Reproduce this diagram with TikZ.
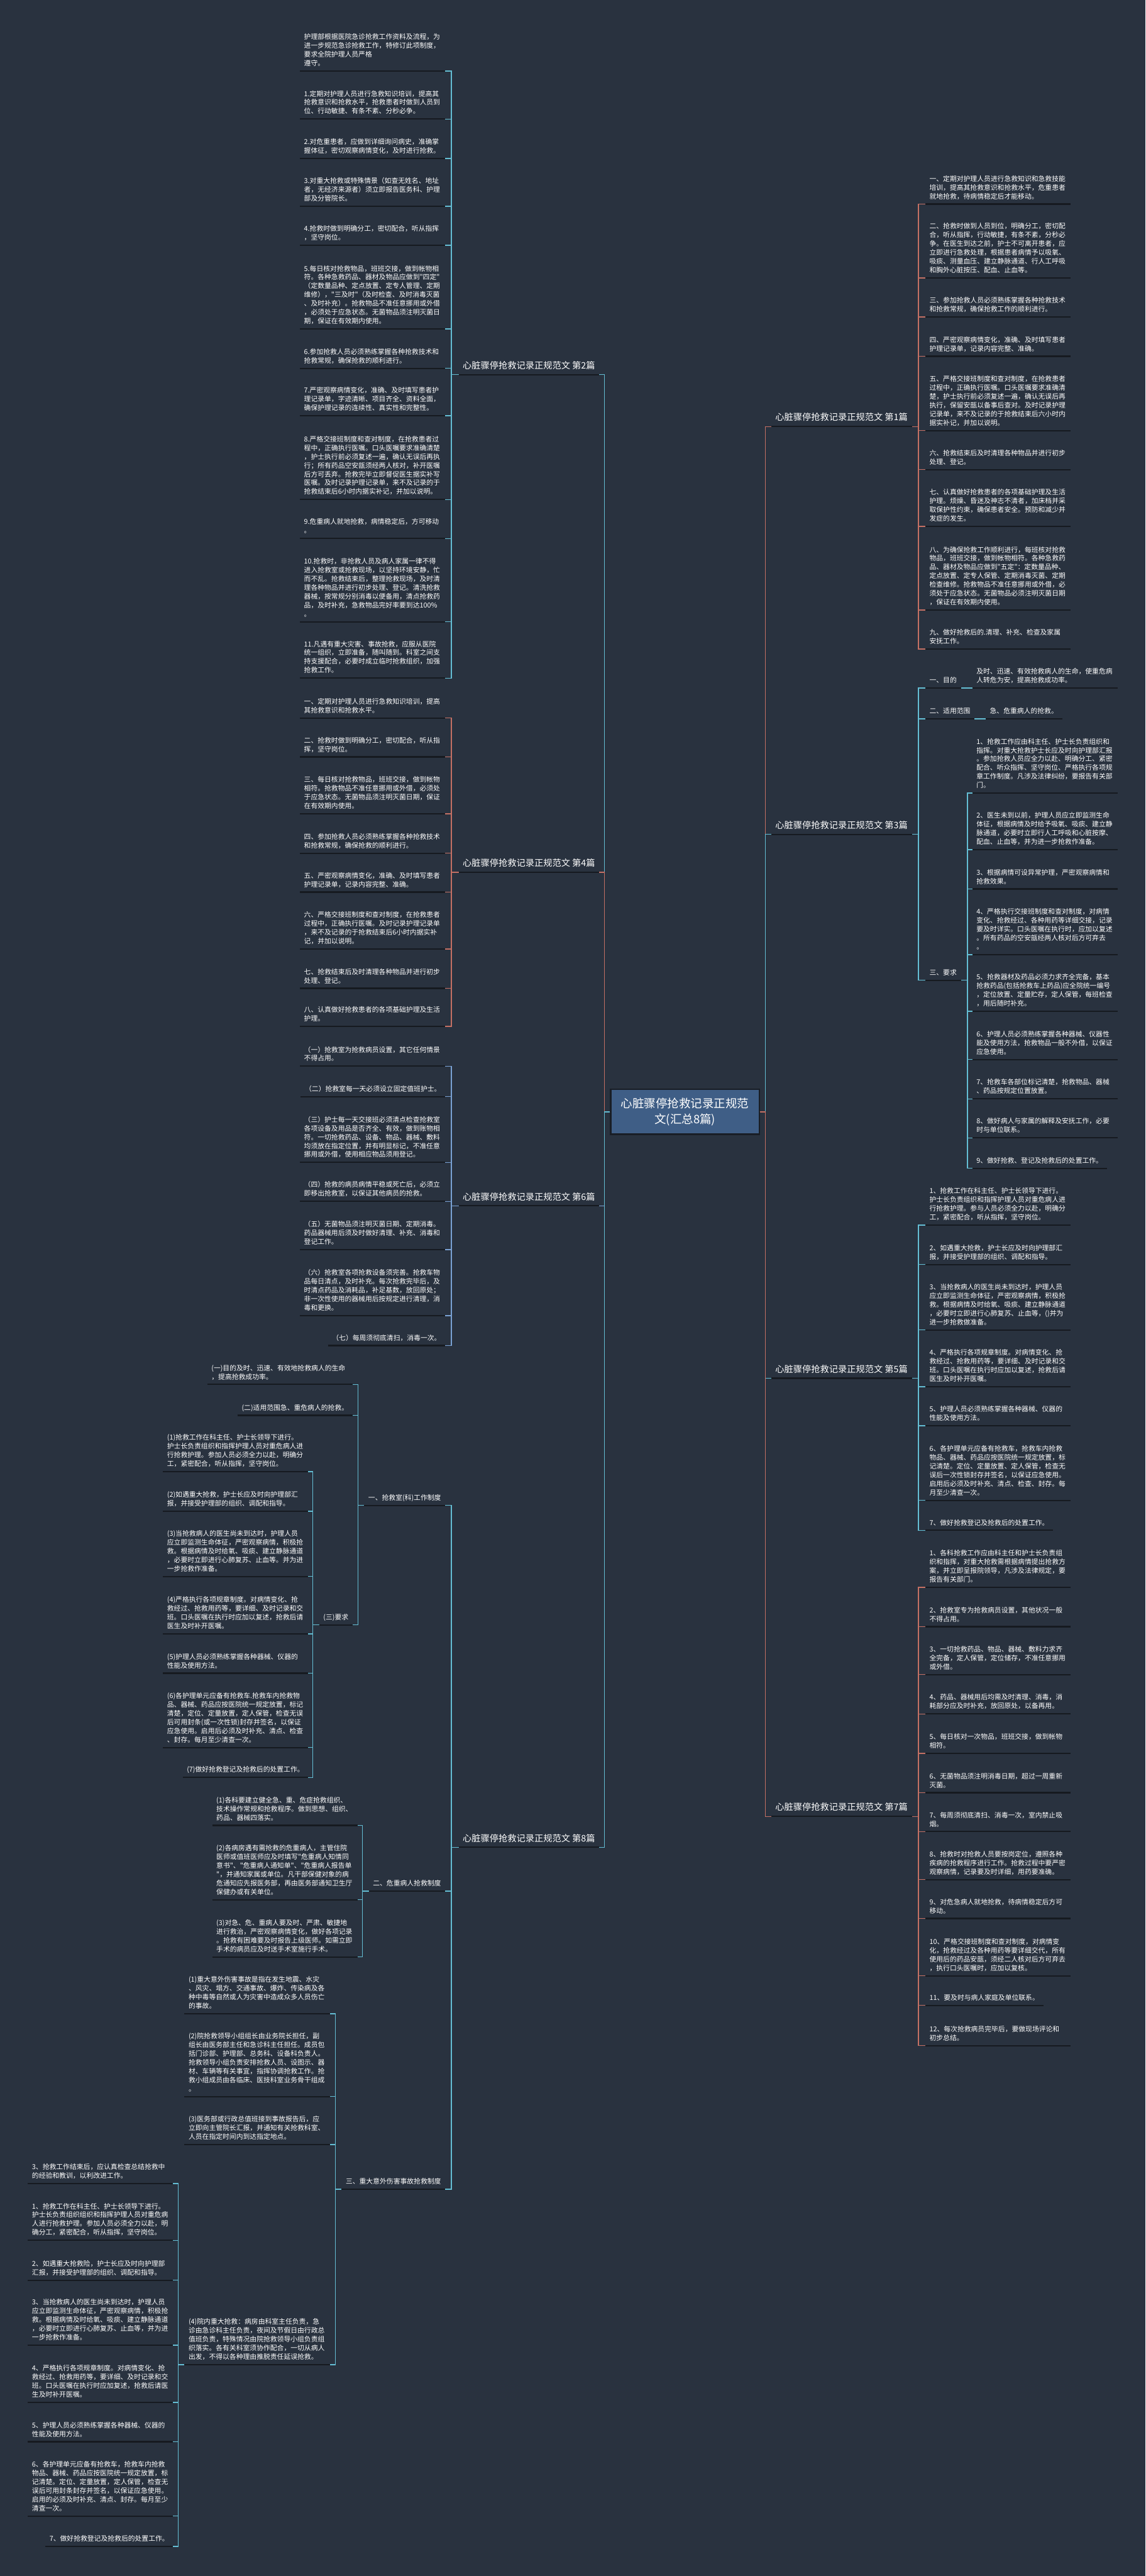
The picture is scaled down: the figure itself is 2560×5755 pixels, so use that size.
\documentclass[tikz,border=0pt]{standalone}
\usepackage{fontspec}
\newfontfamily\cjk{Noto Sans CJK SC}
\newcommand\lf{\cjk\fontsize{7.6pt}{9.8pt}\selectfont}
\newcommand\brf{\cjk\fontsize{10pt}{12pt}\selectfont}
\newcommand\rootf{\cjk\fontsize{13pt}{17pt}\selectfont}
\definecolor{bg}{RGB}{41,50,63}
\definecolor{ulc}{RGB}{22,26,32}
\definecolor{cyanc}{RGB}{100,190,212}
\definecolor{salc}{RGB}{196,112,100}
\definecolor{bluc}{RGB}{122,162,212}
\definecolor{rootfill}{RGB}{63,94,134}
\definecolor{rootdraw}{RGB}{25,30,38}
\begin{document}
\begin{tikzpicture}[x=0.5pt,y=-0.5pt,
 lf/.style={font=\lf, text=white, inner xsep=4.5pt, inner ysep=2.75pt, align=left, execute at end node=\strut},
 wd/.style={text width=153pt},
 lft/.style={anchor=south east},
 rgt/.style={anchor=south west},
 brn/.style={font=\brf, text=white, inner xsep=4.5pt, inner ysep=2.75pt, execute at end node=\strut},
 ul/.style={draw=ulc, line width=1.5pt},
 cy/.style={draw=cyanc, line width=1pt},
 sa/.style={draw=salc, line width=1pt},
 bl/.style={draw=bluc, line width=1pt},
 rootn/.style={font=\rootf, text=white, fill=rootfill, draw=rootdraw, line width=1.5pt, align=center, minimum width=166pt, minimum height=50pt}]
\fill[bg] (0,0) rectangle (2560,5755);
\useasboundingbox (0,0) rectangle (2560,5755);

% root
\node[rootn] (root) at (1531,2484) {心脏骤停抢救记录正规范\\文(汇总8篇)};
\coordinate (lj) at (1351,2484);
\coordinate (rj) at (1711,2484);

% branch labels
\node[brn,rgt] (b2) at (1025,837) {心脏骤停抢救记录正规范文 第2篇};
\node[brn,rgt] (b4) at (1025,1949) {心脏骤停抢救记录正规范文 第4篇};
\node[brn,rgt] (b6) at (1025,2694) {心脏骤停抢救记录正规范文 第6篇};
\node[brn,rgt] (b8) at (1025,4127) {心脏骤停抢救记录正规范文 第8篇};
\node[brn,lft] (b1) at (2038,953) {心脏骤停抢救记录正规范文 第1篇};
\node[brn,lft] (b3) at (2038,1864) {心脏骤停抢救记录正规范文 第3篇};
\node[brn,lft] (b5) at (2038,3079) {心脏骤停抢救记录正规范文 第5篇};
\node[brn,lft] (b7) at (2038,4058) {心脏骤停抢救记录正规范文 第7篇};

% ---------- 第2篇 ----------
\node[lf,wd,lft] (p2a) at (995,159) {护理部根据医院急诊抢救工作资料及流程，为\\进一步规范急诊抢救工作，特修订此项制度，\\要求全院护理人员严格\\遵守。};
\node[lf,wd,lft] (p2b) at (995,266) {1.定期对护理人员进行急救知识培训，提高其\\抢救意识和抢救水平，抢救患者时做到人员到\\位、行动敏捷、有条不紊、分秒必争。};
\node[lf,wd,lft] (p2c) at (995,354) {2.对危重患者，应做到详细询问病史，准确掌\\握体征，密切观察病情变化，及时进行抢救。};
\node[lf,wd,lft] (p2d) at (995,461) {3.对重大抢救或特殊情景（如查无姓名、地址\\者，无经济来源者）须立即报告医务科、护理\\部及分管院长。};
\node[lf,wd,lft] (p2e) at (995,548) {4.抢救时做到明确分工，密切配合，听从指挥\\，坚守岗位。};
\node[lf,wd,lft] (p2f) at (995,735) {5.每日核对抢救物品，班班交接，做到帐物相\\符。各种急救药品、器材及物品应做到"四定"\\（定数量品种、定点放置、定专人管理、定期\\维修），"三及时"（及时检查、及时消毒灭菌\\、及时补充）。抢救物品不准任意挪用或外借\\，必须处于应急状态。无菌物品须注明灭菌日\\期，保证在有效期内使用。};
\node[lf,wd,lft] (p2g) at (995,823) {6.参加抢救人员必须熟练掌握各种抢救技术和\\抢救常规，确保抢救的顺利进行。};
\node[lf,wd,lft] (p2h) at (995,929) {7.严密观察病情变化，准确、及时填写患者护\\理记录单，字迹清晰、项目齐全、资料全面，\\确保护理记录的连续性、真实性和完整性。};
\node[lf,wd,lft] (p2i) at (995,1116) {8.严格交接班制度和查对制度，在抢救患者过\\程中，正确执行医嘱。口头医嘱要求准确清楚\\，护士执行前必须复述一遍，确认无误后再执\\行；所有药品空安瓿须经两人核对，补开医嘱\\后方可丢弃。抢救完毕立即督促医生据实补写\\医嘱。及时记录护理记录单，来不及记录的于\\抢救结束后6小时内据实补记，并加以说明。};
\node[lf,wd,lft] (p2j) at (995,1203) {9.危重病人就地抢救，病情稳定后，方可移动\\。};
\node[lf,wd,lft] (p2k) at (995,1389) {10.抢救时，非抢救人员及病人家属一律不得\\进入抢救室或抢救现场，以坚持环境安静，忙\\而不乱。抢救结束后，整理抢救现场，及时清\\理各种物品并进行初步处理、登记。清洗抢救\\器械，按常规分别消毒以便备用，清点抢救药\\品，及时补充，急救物品完好率要到达100\%\\。};
\node[lf,wd,lft] (p2l) at (995,1515) {11.凡遇有重大灾害、事故抢救，应服从医院\\统一组织，立即准备，随叫随到。科室之间支\\持支援配合，必要时成立临时抢救组织，加强\\抢救工作。};

% ---------- 第4篇 ----------
\node[lf,wd,lft] (p4a) at (995,1604) {一、定期对护理人员进行急救知识培训，提高\\其抢救意识和抢救水平。};
\node[lf,wd,lft] (p4b) at (995,1691) {二、抢救时做到明确分工，密切配合，听从指\\挥，坚守岗位。};
\node[lf,wd,lft] (p4c) at (995,1818) {三、每日核对抢救物品，班班交接，做到帐物\\相符。抢救物品不准任意挪用或外借，必须处\\于应急状态。无菌物品须注明灭菌日期，保证\\在有效期内使用。};
\node[lf,wd,lft] (p4d) at (995,1906) {四、参加抢救人员必须熟练掌握各种抢救技术\\和抢救常规，确保抢救的顺利进行。};
\node[lf,wd,lft] (p4e) at (995,1993) {五、严密观察病情变化，准确、及时填写患者\\护理记录单，记录内容完整、准确。};
\node[lf,wd,lft] (p4f) at (995,2120) {六、严格交接班制度和查对制度，在抢救患者\\过程中，正确执行医嘱。及时记录护理记录单\\，来不及记录的于抢救结束后6小时内据实补\\记，并加以说明。};
\node[lf,wd,lft] (p4g) at (995,2208) {七、抢救结束后及时清理各种物品并进行初步\\处理、登记。};
\node[lf,wd,lft] (p4h) at (995,2293) {八、认真做好抢救患者的各项基础护理及生活\\护理。};

% ---------- 第6篇 ----------
\node[lf,wd,lft] (p6a) at (995,2382) {（一）抢救室为抢救病员设置，其它任何情景\\不得占用。};
\node[lf,lft] (p6b) at (995,2450) {（二）抢救室每一天必须设立固定值班护士。};
\node[lf,wd,lft] (p6c) at (995,2597) {（三）护士每一天交接班必须清点检查抢救室\\各项设备及用品是否齐全、有效，做到账物相\\符。一切抢救药品、设备、物品、器械、敷料\\均须放在指定位置，并有明显标记，不准任意\\挪用或外借，使用相应物品须用登记。};
\node[lf,wd,lft] (p6d) at (995,2684) {（四）抢救的病员病情平稳或死亡后，必须立\\即移出抢救室，以保证其他病员的抢救。};
\node[lf,wd,lft] (p6e) at (995,2792) {（五）无菌物品须注明灭菌日期、定期消毒。\\药品器械用后须及时做好清理、补充、消毒和\\登记工作。};
\node[lf,wd,lft] (p6f) at (995,2939) {（六）抢救室各项抢救设备须完善。抢救车物\\品每日清点，及时补充。每次抢救完毕后，及\\时清点药品及消耗品，补足基数，放回原处；\\非一次性使用的器械用后按规定进行清理，消\\毒和更换。};
\node[lf,lft] (p6g) at (995,3006) {（七）每周须彻底清扫，消毒一次。};

% ---------- 第8篇 ----------
\node[lf,lft] (s1) at (995,3363) {一、抢救室(科)工作制度};
\node[lf,lft] (s2) at (995,4225) {二、危重病人抢救制度};
\node[lf,lft] (s3) at (995,4891) {三、重大意外伤害事故抢救制度};

\node[lf,wd,lft] (s1a) at (788,3093) {(一)目的及时、迅速、有效地抢救病人的生命\\，提高抢救成功率。};
\node[lf,lft] (s1b) at (788,3162) {(二)适用范围急、重危病人的抢救。};
\node[lf,lft] (s1c) at (788,3630) {(三)要求};

\node[lf,wd,lft] (q1) at (689,3288) {(1)抢救工作在科主任、护士长领导下进行。\\护士长负责组织和指挥护理人员对重危病人进\\行抢救护理。参加人员必须全力以赴，明确分\\工，紧密配合，听从指挥，坚守岗位。};
\node[lf,wd,lft] (q2) at (689,3376) {(2)如遇重大抢救，护士长应及时向护理部汇\\报，并接受护理部的组织、调配和指导。};
\node[lf,wd,lft] (q3) at (689,3522) {(3)当抢救病人的医生尚未到达时，护理人员\\应立即监测生命体征，严密观察病情，积极抢\\救。根据病情及时给氧、吸痰、建立静脉通道\\，必要时立即进行心肺复苏、止血等。并为进\\一步抢救作准备。};
\node[lf,wd,lft] (q4) at (689,3650) {(4)严格执行各项规章制度。对病情变化、抢\\救经过、抢救用药等，要详细、及时记录和交\\班。口头医嘱在执行时应加以复述，抢救后请\\医生及时补开医嘱。};
\node[lf,wd,lft] (q5) at (689,3738) {(5)护理人员必须熟练掌握各种器械、仪器的\\性能及使用方法。};
\node[lf,wd,lft] (q6) at (689,3904) {(6)各护理单元应备有抢救车.抢救车内抢救物\\品、器械、药品应按医院统一规定放置，标记\\清楚，定位、定量放置，定人保管，检查无误\\后可用封条(或一次性锁)封存并签名，以保证\\应急使用。启用后必须及时补充、清点、检查\\、封存。每月至少清查一次。};
\node[lf,lft] (q7) at (689,3971) {(7)做好抢救登记及抢救后的处置工作。};

\node[lf,wd,lft] (u1) at (799,4078) {(1)各科要建立健全急、重、危症抢救组织、\\技术操作常规和抢救程序。做到思想、组织、\\药品、器械四落实。};
\node[lf,wd,lft] (u2) at (799,4244) {(2)各病房遇有需抢救的危重病人，主管住院\\医师或值班医师应及时填写"危重病人知情同\\意书"、"危重病人通知单"、"危重病人报告单\\"，并通知家属或单位。凡干部保健对象的病\\危通知应先报医务部，再由医务部通知卫生厅\\保健办或有关单位。};
\node[lf,wd,lft] (u3) at (799,4372) {(3)对急、危、重病人要及时、严肃、敏捷地\\进行救治，严密观察病情变化，做好各项记录\\。抢救有困难要及时报告上级医师。如需立即\\手术的病员应及时送手术室施行手术。};

\node[lf,wd,lft] (v1) at (737,4499) {(1)重大意外伤害事故是指在发生地震、水灾\\、风灾、塌方、交通事故、爆炸、传染病及各\\种中毒等自然或人为灾害中造成众多人员伤亡\\的事故。};
\node[lf,wd,lft] (v2) at (737,4684) {(2)院抢救领导小组组长由业务院长担任，副\\组长由医务部主任和急诊科主任担任。成员包\\括门诊部、护理部、总务科、设备科负责人。\\抢救领导小组负责安排抢救人员、设图示、器\\材、车辆等有关事宜，指挥协调抢救工作。抢\\救小组成员由各临床、医技科室业务骨干组成\\。};
\node[lf,wd,lft] (v3) at (737,4791) {(3)医务部或行政总值班接到事故报告后，应\\立即向主管院长汇报，并通知有关抢救科室、\\人员在指定时间内到达指定地点。};
\node[lf,wd,lft] (v4) at (737,5283) {(4)院内重大抢救：病房由科室主任负责，急\\诊由急诊科主任负责，夜间及节假日由行政总\\值班负责，特殊情况由院抢救领导小组负责组\\织落实。各有关科室须协作配合，一切从病人\\出发，不得以各种理由推脱责任延误抢救。};

\node[lf,wd,lft] (w0) at (387,4878) {3、抢救工作结束后，应认真检查总结抢救中\\的经验和教训，以利改进工作。};
\node[lf,wd,lft] (w1) at (387,5005) {1、抢救工作在科主任、护士长领导下进行。\\护士长负责组织组织和指挥护理人员对重危病\\人进行抢救护理。参加人员必须全力以赴，明\\确分工，紧密配合，听从指挥，坚守岗位。};
\node[lf,wd,lft] (w2) at (387,5094) {2、如遇重大抢救险，护士长应及时向护理部\\汇报，并接受护理部的组织、调配和指导。};
\node[lf,wd,lft] (w3) at (387,5239) {3、当抢救病人的医生尚未到达时，护理人员\\应立即监测生命体征，严密观察病情，积极抢\\救。根据病情及时给氧、吸痰、建立静脉通道\\，必要时立即进行心肺复苏、止血等，并为进\\一步抢救作准备。};
\node[lf,wd,lft] (w4) at (387,5367) {4、严格执行各项规章制度。对病情变化、抢\\救经过、抢救用药等，要详细、及时记录和交\\班。口头医嘱在执行时应加复述，抢救后请医\\生及时补开医嘱。};
\node[lf,wd,lft] (w5) at (387,5455) {5、护理人员必须熟练掌握各种器械、仪器的\\性能及使用方法。};
\node[lf,wd,lft] (w6) at (387,5621) {6、各护理单元应备有抢救车，抢救车内抢救\\物品、器械、药品应按医院统一规定放置，标\\记清楚。定位、定量放置，定人保管，检查无\\误后可用封条封存并签名，以保证应急使用。\\启用的必须及时补充、清点、封存。每月至少\\清查一次。};
\node[lf,lft] (w7) at (387,5689) {7、做好抢救登记及抢救后的处置工作。};

% ---------- 第1篇 ----------
\node[lf,wd,rgt] (r1a) at (2068,456) {一、定期对护理人员进行急救知识和急救技能\\培训，提高其抢救意识和抢救水平，危重患者\\就地抢救，待病情稳定后才能移动。};
\node[lf,wd,rgt] (r1b) at (2068,621) {二、抢救时做到人员到位，明确分工，密切配\\合，听从指挥，行动敏捷，有条不紊，分秒必\\争。在医生到达之前，护士不可离开患者，应\\立即进行急救处理，根据患者病情予以吸氧、\\吸痰、测量血压、建立静脉通道、行人工呼吸\\和胸外心脏按压、配血、止血等。};
\node[lf,wd,rgt] (r1c) at (2068,708) {三、参加抢救人员必须熟练掌握各种抢救技术\\和抢救常规，确保抢救工作的顺利进行。};
\node[lf,wd,rgt] (r1d) at (2068,796) {四、严密观察病情变化，准确、及时填写患者\\护理记录单，记录内容完整、准确。};
\node[lf,wd,rgt] (r1e) at (2068,962) {五、严格交接班制度和查对制度，在抢救患者\\过程中，正确执行医嘱。口头医嘱要求准确清\\楚，护士执行前必须复述一遍，确认无误后再\\执行，保留安瓿以备事后查对。及时记录护理\\记录单，来不及记录的于抢救结束后六小时内\\据实补记，并加以说明。};
\node[lf,wd,rgt] (r1f) at (2068,1049) {六、抢救结束后及时清理各种物品并进行初步\\处理、登记。};
\node[lf,wd,rgt] (r1g) at (2068,1176) {七、认真做好抢救患者的各项基础护理及生活\\护理。烦燥、昏迷及神志不清者，加床档并采\\取保护性约束，确保患者安全。预防和减少并\\发症的发生。};
\node[lf,wd,rgt] (r1h) at (2068,1363) {八、为确保抢救工作顺利进行，每班核对抢救\\物品，班班交接，做到帐物相符。各种急救药\\品、器材及物品应做到"五定"：定数量品种、\\定点放置、定专人保管、定期消毒灭菌、定期\\检查维修。抢救物品不准任意挪用或外借，必\\须处于应急状态。无菌物品必须注明灭菌日期\\，保证在有效期内使用。};
\node[lf,wd,rgt] (r1i) at (2068,1450) {九、做好抢救后的.清理、补充、检查及家属\\安抚工作。};

% ---------- 第3篇 ----------
\node[lf,rgt] (g1) at (2068,1537) {一、目的};
\node[lf,rgt] (g2) at (2068,1606) {二、适用范围};
\node[lf,rgt] (g3) at (2068,2190) {三、要求};
\node[lf,wd,rgt] (g1c) at (2173,1537) {及时、迅速、有效抢救病人的生命，使重危病\\人转危为安，提高抢救成功率。};
\node[lf,rgt] (g2c) at (2203,1606) {急、危重病人的抢救。};
\node[lf,wd,rgt] (h1) at (2173,1772) {1、抢救工作应由科主任、护士长负责组织和\\指挥。对重大抢救护士长应及时向护理部汇报\\。参加抢救人员应全力以赴、明确分工、紧密\\配合、听众指挥、坚守岗位、严格执行各项规\\章工作制度。凡涉及法律纠纷，要报告有关部\\门。};
\node[lf,wd,rgt] (h2) at (2173,1898) {2、医生未到以前，护理人员应立即监测生命\\体征，根据病情及时给予吸氧、吸痰、建立静\\脉通道，必要时立即行人工呼吸和心脏按摩、\\配血、止血等，并为进一步抢救作准备。};
\node[lf,wd,rgt] (h3) at (2173,1986) {3、根据病情可设异常护理，严密观察病情和\\抢救效果。};
\node[lf,wd,rgt] (h4) at (2173,2133) {4、严格执行交接班制度和查对制度，对病情\\变化、抢救经过、各种用药等详细交接，记录\\要及时详实。口头医嘱在执行时，应加以复述\\。所有药品的空安瓿经两人核对后方可弃去\\。};
\node[lf,wd,rgt] (h5) at (2173,2259) {5、抢救器材及药品必须力求齐全完备，基本\\抢救药品(包括抢救车上药品)应全院统一编号\\，定位放置、定量贮存，定人保管，每班检查\\，用后随时补充。};
\node[lf,wd,rgt] (h6) at (2173,2367) {6、护理人员必须熟练掌握各种器械、仪器性\\能及使用方法，抢救物品一般不外借，以保证\\应急使用。};
\node[lf,wd,rgt] (h7) at (2173,2455) {7、抢救车各部位标记清楚，抢救物品、器械\\、药品按规定位置放置。};
\node[lf,wd,rgt] (h8) at (2173,2542) {8、做好病人与家属的解释及安抚工作，必要\\时与单位联系。};
\node[lf,rgt] (h9) at (2173,2610) {9、做好抢救、登记及抢救后的处置工作。};

% ---------- 第5篇 ----------
\node[lf,wd,rgt] (k1) at (2068,2737) {1、抢救工作在科主任、护士长领导下进行。\\护士长负责组织和指挥护理人员对重危病人进\\行抢救护理。参与人员必须全力以赴，明确分\\工，紧密配合，听从指挥，坚守岗位。};
\node[lf,wd,rgt] (k2) at (2068,2825) {2、如遇重大抢救，护士长应及时向护理部汇\\报，并接受护理部的组织、调配和指导。};
\node[lf,wd,rgt] (k3) at (2068,2971) {3、当抢救病人的医生尚未到达时，护理人员\\应立即监测生命体征，严密观察病情，积极抢\\救。根据病情及时给氧、吸痰、建立静脉通道\\，必要时立即进行心肺复苏、止血等，()并为\\进一步抢救做准备。};
\node[lf,wd,rgt] (k4) at (2068,3098) {4、严格执行各项规章制度。对病情变化、抢\\救经过、抢救用药等，要详细、及时记录和交\\班。口头医嘱在执行时应加以复述，抢救后请\\医生及时补开医嘱。};
\node[lf,wd,rgt] (k5) at (2068,3185) {5、护理人员必须熟练掌握各种器械、仪器的\\性能及使用方法。};
\node[lf,wd,rgt] (k6) at (2068,3352) {6、各护理单元应备有抢救车，抢救车内抢救\\物品、器械、药品应按医院统一规定放置，标\\记清楚。定位、定量放置、定人保管，检查无\\误后一次性锁封存并签名，以保证应急使用。\\启用后必须及时补充、清点、检查、封存。每\\月至少清查一次。};
\node[lf,rgt] (k7) at (2068,3419) {7、做好抢救登记及抢救后的处置工作。};

% ---------- 第7篇 ----------
\node[lf,wd,rgt] (m1) at (2068,3546) {1、各科抢救工作应由科主任和护士长负责组\\织和指挥，对重大抢救需根据病情提出抢救方\\案，并立即呈报院领导，凡涉及法律规定，要\\报告有关部门。};
\node[lf,wd,rgt] (m2) at (2068,3634) {2、抢救室专为抢救病员设置，其他状况一般\\不得占用。};
\node[lf,wd,rgt] (m3) at (2068,3741) {3、一切抢救药品、物品、器械、敷料力求齐\\全完备，定人保管，定位储存，不准任意挪用\\或外借。};
\node[lf,wd,rgt] (m4) at (2068,3829) {4、药品、器械用后均需及时清理、消毒，消\\耗部分应及时补充，放回原处，以备再用。};
\node[lf,wd,rgt] (m5) at (2068,3917) {5、每日核对一次物品，班班交接，做到帐物\\相符。};
\node[lf,wd,rgt] (m6) at (2068,4005) {6、无菌物品须注明消毒日期，超过一周重新\\灭菌。};
\node[lf,wd,rgt] (m7) at (2068,4092) {7、每周须彻底清扫、消毒一次，室内禁止吸\\烟。};
\node[lf,wd,rgt] (m8) at (2068,4199) {8、抢救时对抢救人员要按岗定位，遵照各种\\疾病的抢救程序进行工作。抢救过程中要严密\\观察病情，记录要及时详细，用药要准确。};
\node[lf,wd,rgt] (m9) at (2068,4286) {9、对危急病人就地抢救，待病情稳定后方可\\移动。};
\node[lf,wd,rgt] (m10) at (2068,4414) {10、严格交接班制度和查对制度，对病情变\\化，抢救经过及各种用药等要详细交代，所有\\使用后的药品安瓿，须经二人核对后方可弃去\\，执行口头医嘱时，应加以复核。};
\node[lf,rgt] (m11) at (2068,4480) {11、要及时与病人家庭及单位联系。};
\node[lf,wd,rgt] (m12) at (2068,4570) {12、每次抢救病员完毕后，要做现场评论和\\初步总结。};

% ---------- connectors ----------
\draw[cy] (root.west) -- (lj) |- (b2.south east);
\draw[sa] (root.west) -- (lj) |- (b4.south east);
\draw[bl] (root.west) -- (lj) |- (b6.south east);
\draw[cy] (root.west) -- (lj) |- (b8.south east);
\draw[sa] (root.east) -- (rj) |- (b1.south west);
\draw[cy] (root.east) -- (rj) |- (b3.south west);
\draw[cy] (root.east) -- (rj) |- (b5.south west);
\draw[sa] (root.east) -- (rj) |- (b7.south west);

\foreach \n in {p2a,p2b,p2c,p2d,p2e,p2f,p2g,p2h,p2i,p2j,p2k,p2l}
  \draw[cy] (b2.south west) -- ++(-16,0) |- (\n.south east);
\foreach \n in {p4a,p4b,p4c,p4d,p4e,p4f,p4g,p4h}
  \draw[sa] (b4.south west) -- ++(-16,0) |- (\n.south east);
\foreach \n in {p6a,p6b,p6c,p6d,p6e,p6f,p6g}
  \draw[bl] (b6.south west) -- ++(-16,0) |- (\n.south east);
\foreach \n in {s1,s2,s3}
  \draw[cy] (b8.south west) -- ++(-16,0) |- (\n.south east);
\foreach \n in {s1a,s1b,s1c}
  \draw[cy] (s1.south west) -- ++(-14,0) |- (\n.south east);
\foreach \n in {q1,q2,q3,q4,q5,q6,q7}
  \draw[cy] (s1c.south west) -- ++(-14,0) |- (\n.south east);
\foreach \n in {u1,u2,u3}
  \draw[cy] (s2.south west) -- ++(-14,0) |- (\n.south east);
\foreach \n in {v1,v2,v3,v4}
  \draw[cy] (s3.south west) -- ++(-14,0) |- (\n.south east);
\foreach \n in {w0,w1,w2,w3,w4,w5,w6,w7}
  \draw[cy] (v4.south west) -- ++(-14,0) |- (\n.south east);

\foreach \n in {r1a,r1b,r1c,r1d,r1e,r1f,r1g,r1h,r1i}
  \draw[sa] (b1.south east) -- ++(15,0) |- (\n.south west);
\foreach \n in {g1,g2,g3}
  \draw[cy] (b3.south east) -- ++(15,0) |- (\n.south west);
\draw[cy] (g1.south east) -- (g1c.south west);
\draw[cy] (g2.south east) -- (g2c.south west);
\foreach \n in {h1,h2,h3,h4,h5,h6,h7,h8,h9}
  \draw[cy] (g3.south east) -- ++(15,0) |- (\n.south west);
\foreach \n in {k1,k2,k3,k4,k5,k6,k7}
  \draw[cy] (b5.south east) -- ++(15,0) |- (\n.south west);
\foreach \n in {m1,m2,m3,m4,m5,m6,m7,m8,m9,m10,m11,m12}
  \draw[sa] (b7.south east) -- ++(15,0) |- (\n.south west);

% ---------- underlines ----------
\foreach \n in {b1,b2,b3,b4,b5,b6,b7,b8,
  p2a,p2b,p2c,p2d,p2e,p2f,p2g,p2h,p2i,p2j,p2k,p2l,
  p4a,p4b,p4c,p4d,p4e,p4f,p4g,p4h,
  p6a,p6b,p6c,p6d,p6e,p6f,p6g,
  s1,s2,s3,s1a,s1b,s1c,q1,q2,q3,q4,q5,q6,q7,u1,u2,u3,v1,v2,v3,v4,
  w0,w1,w2,w3,w4,w5,w6,w7,
  r1a,r1b,r1c,r1d,r1e,r1f,r1g,r1h,r1i,
  g1,g2,g3,g1c,g2c,h1,h2,h3,h4,h5,h6,h7,h8,h9,
  k1,k2,k3,k4,k5,k6,k7,
  m1,m2,m3,m4,m5,m6,m7,m8,m9,m10,m11,m12}
  \draw[ul] (\n.south west) -- (\n.south east);
\end{tikzpicture}
\end{document}
